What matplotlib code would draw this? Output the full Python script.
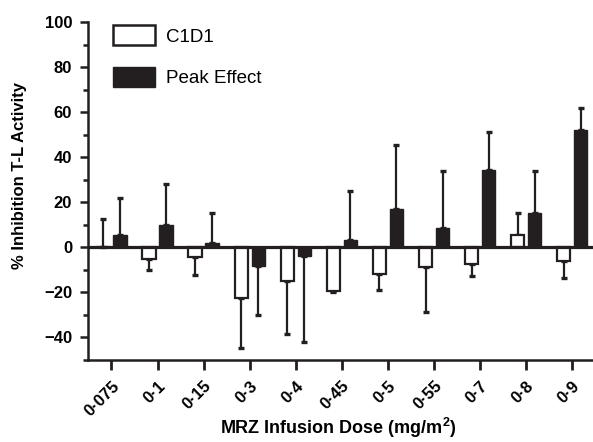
import matplotlib
matplotlib.use("Agg")
import matplotlib.pyplot as plt
import numpy as np
from matplotlib.patches import Patch

plt.rcParams['font.family'] = ['Liberation Sans', 'DejaVu Sans']
plt.rcParams['mathtext.fontset'] = 'custom'
plt.rcParams['mathtext.rm'] = 'Liberation Sans'
plt.rcParams['mathtext.bf'] = 'Liberation Sans:bold'

doses = ["0·075", "0·1", "0·15", "0·3", "0·4", "0·45", "0·5", "0·55", "0·7", "0·8", "0·9"]
c1d1 = [0.2, -5.0, -4.3, -22.6, -15.0, -19.6, -11.7, -8.7, -7.3, 5.6, -6.2]
c1d1_err = [12.2, 5.2, 7.8, 22.0, 23.6, 0.4, 7.4, 20.0, 5.6, 9.8, 7.3]
peak = [5.6, 9.8, 2.1, -8.4, -3.7, 3.3, 17.2, 8.7, 34.2, 15.3, 52.0]
peak_err = [16.3, 18.1, 13.2, 21.5, 38.3, 21.7, 28.4, 25.2, 17.1, 18.6, 9.9]

dark = '#231f20'
fig = plt.figure(figsize=(5.93, 4.42), dpi=100)
ax = fig.add_axes([88/593, 1-360/442, 505/593, 338/442])

x = np.arange(len(doses))
w = 0.29
off = 0.185

def one_sided(vals, errs):
    lo = [e if v < 0 else 0 for v, e in zip(vals, errs)]
    hi = [e if v >= 0 else 0 for v, e in zip(vals, errs)]
    return [lo, hi]

ax.bar(x - off, c1d1, width=w, color='white', edgecolor=dark, linewidth=1.6, zorder=2)
ax.bar(x + off, peak, width=w, color=dark, edgecolor=dark, linewidth=1.0, zorder=2)

ax.errorbar(x - off, c1d1, yerr=one_sided(c1d1, c1d1_err), fmt='none', ecolor=dark,
            elinewidth=1.6, capsize=1.9, capthick=2.4, zorder=1)
ax.errorbar(x + off, peak, yerr=one_sided(peak, peak_err), fmt='none', ecolor=dark,
            elinewidth=1.6, capsize=1.9, capthick=2.4, zorder=1)

ax.axhline(0, color=dark, linewidth=2.3, zorder=3)

ax.set_xlim(-0.51, 10.45)
ax.set_ylim(-50, 100)
ax.set_yticks(np.arange(-40, 101, 20))
ax.set_yticks(np.arange(-50, 100, 10), minor=True)
ax.set_yticklabels(["\u221240", "\u221220", "0", "20", "40", "60", "80", "100"],
                   fontsize=12, fontweight='bold')
ax.set_xticks(x)
ax.set_xticklabels(doses, rotation=45, ha='right', rotation_mode='anchor',
                   fontsize=12, fontweight='bold')

for s in ['top', 'right']:
    ax.spines[s].set_visible(False)
for s in ['left', 'bottom']:
    ax.spines[s].set_linewidth(1.8)
    ax.spines[s].set_color(dark)

ax.tick_params(axis='y', which='major', length=5.5, width=1.8, pad=6, color=dark)
ax.tick_params(axis='y', which='minor', length=3.5, width=1.8, color=dark)
ax.tick_params(axis='x', which='major', length=7, width=2.0, pad=6, color=dark)

ax.set_ylabel('% Inhibition T-L Activity', fontsize=12, fontweight='bold')
ax.yaxis.set_label_coords(-0.12, 0.545)
ax.set_xlabel(r'MRZ Infusion Dose (mg/m$^{\mathbf{2}}$)', fontsize=13, fontweight='bold')
ax.xaxis.set_label_coords(0.495, -0.166)

handles = [Patch(facecolor='white', edgecolor=dark, linewidth=1.8),
           Patch(facecolor=dark, edgecolor=dark, linewidth=1.0)]
ax.legend(handles, ['C1D1', 'Peak Effect'], loc='upper left',
          bbox_to_anchor=(0.05, 0.99), frameon=False, fontsize=13.5,
          handlelength=2.25, handleheight=1.25, handletextpad=0.55,
          labelspacing=1.15, borderpad=0, borderaxespad=0)

fig.savefig('out.png', dpi=100)
